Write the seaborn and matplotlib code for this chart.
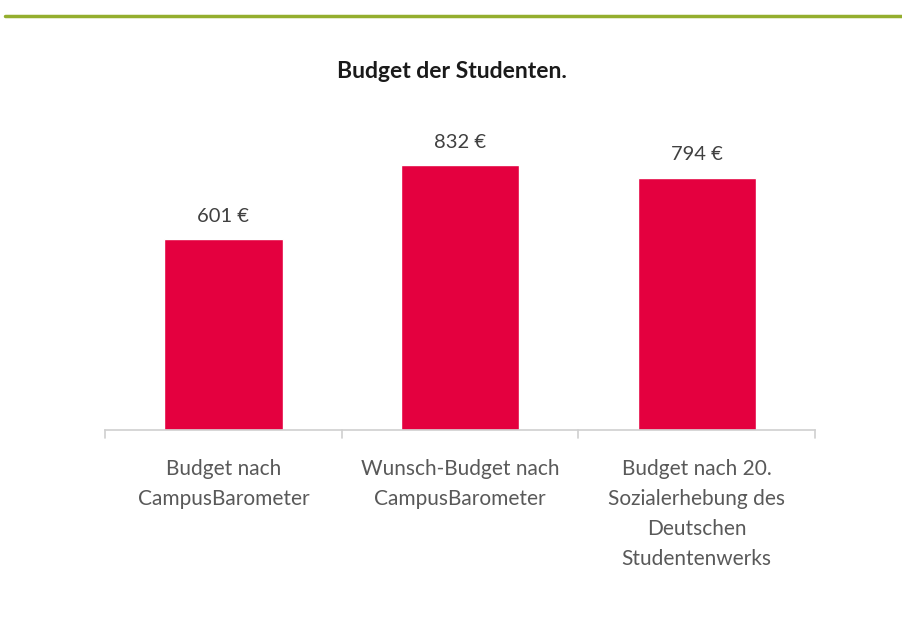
import pandas as pd
import numpy as np
import matplotlib
matplotlib.use('Agg')
import matplotlib.pyplot as plt
import seaborn as sns

categories = ['Budget nach\nCampusBarometer',
              'Wunsch-Budget nach\nCampusBarometer',
              'Budget nach 20.\nSozialerhebung des\nDeutschen\nStudentenwerks']
values = [601, 832, 794]
value_labels = ['601 €', '832 €', '794 €']

df = pd.DataFrame({'kategorie': categories, 'budget': values})

sns.set_style('white')
plt.rcParams['font.family'] = ['Lato', 'DejaVu Sans']

fig = plt.figure(figsize=(9.03, 6.32), dpi=100)
# axes: left 105px, right 815px, bottom at y=430px, top so that 1000 units = 318px
ax = fig.add_axes([105/903, 1-430/632, 710/903, 318/632])

sns.barplot(data=df, x='kategorie', y='budget', color='#E4003F', width=0.5,
            saturation=1, ax=ax)

ax.set_ylim(0, 1000)
ax.set_xlim(-0.5, 2.5)
ax.set_xlabel('')
ax.set_ylabel('')
ax.set_yticks([])
for s in ['top', 'right', 'left']:
    ax.spines[s].set_visible(False)
ax.spines['bottom'].set_color('#D0D0D0')
ax.spines['bottom'].set_linewidth(1.2)

ax.set_xticks([0, 1, 2])
ax.set_xticklabels(categories, fontsize=15, color='#595959', linespacing=1.62,
                   va='top')
ax.tick_params(axis='x', length=0, pad=21)
# separator ticks between categories
for xb in [-0.5, 0.5, 1.5, 2.5]:
    ax.plot([xb, xb], [0, -25], color='#D0D0D0', lw=1.2, clip_on=False)

for i, (v, lab) in enumerate(zip(values, value_labels)):
    ax.text(i, v + 45, lab, ha='center', va='bottom', fontsize=14.5,
            color='#404040')

fig.text(0.5, 1-72/632, 'Budget der Studenten.', ha='center', va='center',
         fontsize=16.5, fontweight='bold', color='#1a1a1a')

fig.add_artist(plt.Line2D([5/903, 1], [1-16/632, 1-16/632],
                          color='#94AE2E', lw=2.5))

fig.savefig('out.png', dpi=100)
